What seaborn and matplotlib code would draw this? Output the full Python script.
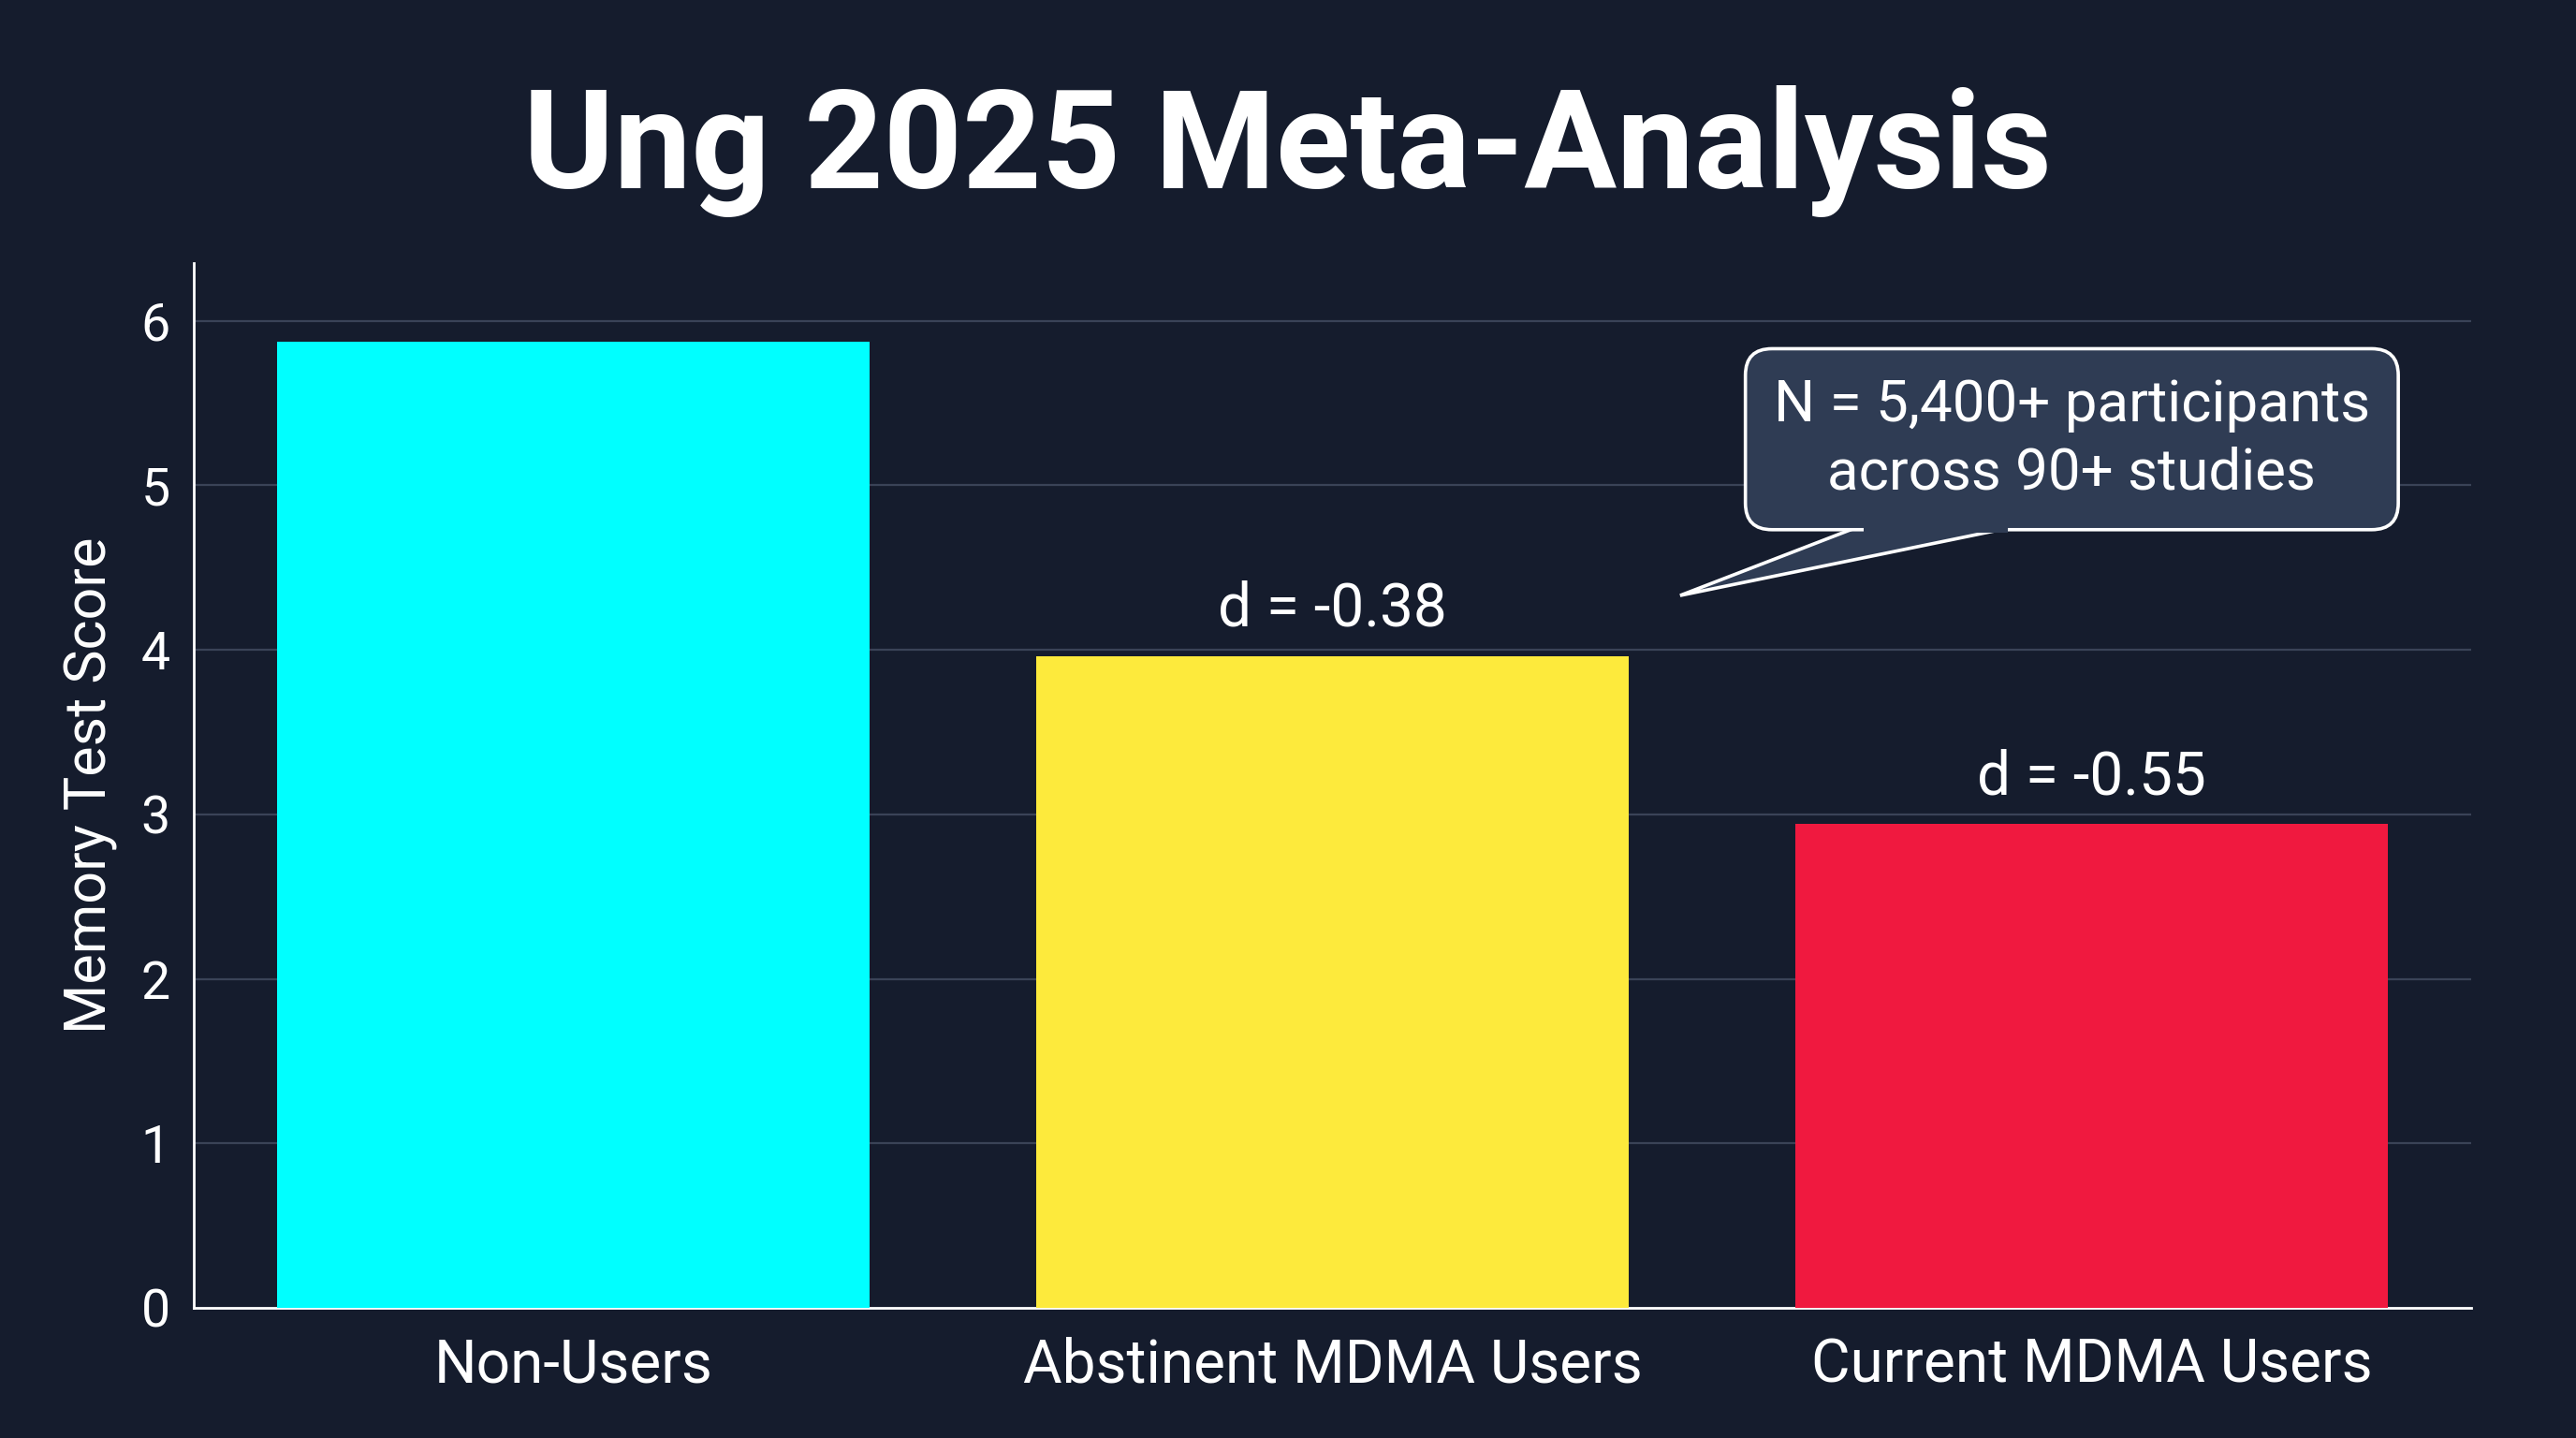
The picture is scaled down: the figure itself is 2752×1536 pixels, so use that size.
import numpy as np
import pandas as pd
import matplotlib
matplotlib.use("Agg")
import matplotlib.pyplot as plt
import seaborn as sns
from matplotlib.patches import FancyBboxPatch, Polygon

# data
groups = ["Non-Users", "Abstinent MDMA Users", "Current MDMA Users"]
scores = [5.87, 3.96, 2.94]
effect_labels = ["", "d = -0.38", "d = -0.55"]
bar_colors = ["#00FFFF", "#FDEA3C", "#F0193F"]
y_ticks = [0, 1, 2, 3, 4, 5, 6]
callout_text = "N = 5,400+ participants\nacross 90+ studies"

BG = "#151C2D"
sns.set_theme(style="dark")
plt.rcParams["font.family"] = ["Roboto", "DejaVu Sans"]

df = pd.DataFrame({"Group": groups, "Score": scores})

fig = plt.figure(figsize=(13.76, 7.68), dpi=200, facecolor=BG)
ax = fig.add_axes([0.0752, 0.0905, 0.8841, 0.7265])
ax.set_facecolor(BG)

sns.barplot(data=df, x="Group", y="Score", hue="Group", palette=bar_colors,
            width=0.78, saturation=1, legend=False, linewidth=0, ax=ax, zorder=3)

ax.set_xlim(-0.5, 2.5)
ax.set_ylim(0, 6.35)
ax.set_yticks(y_ticks)
ax.yaxis.grid(True, color="#3A4357", linewidth=0.8, zorder=0)
ax.xaxis.grid(False)
for s in ["top", "right"]:
    ax.spines[s].set_visible(False)
for s in ["left", "bottom"]:
    ax.spines[s].set_color("white")
    ax.spines[s].set_linewidth(1.0)
ax.tick_params(axis="y", length=0, pad=9, labelsize=20, labelcolor="white")
ax.tick_params(axis="x", length=0, pad=11, labelsize=23, labelcolor="white")
ax.set_xlabel("")
ax.set_ylabel("Memory Test Score", color="white", fontsize=22, labelpad=9)

# effect size labels over bars
for i, lab in enumerate(effect_labels):
    if lab:
        ax.text(i, scores[i] + 0.11, lab, ha="center", va="bottom",
                color="white", fontsize=23, zorder=5)

# callout bubble
box_fc = "#2F3C54"
bx0, bx1, by0, by1 = 1.544, 2.404, 4.73, 5.83
tail = [(1.694, by0 + 0.02), (1.458, 4.33), (1.901, by0 + 0.02)]
ax.add_patch(Polygon(tail, closed=True, facecolor=box_fc, edgecolor="white",
                     linewidth=1.3, zorder=6))
ax.add_patch(FancyBboxPatch((bx0, by0), bx1 - bx0, by1 - by0,
                            boxstyle="round,pad=0,rounding_size=0.035",
                            mutation_aspect=4.6, facecolor=box_fc,
                            edgecolor="white", linewidth=1.3, zorder=7))
cover = [(1.700, by0 + 0.06), (1.700, by0 - 0.02), (1.89, by0 - 0.02), (1.89, by0 + 0.06)]
ax.add_patch(Polygon(cover, closed=True, facecolor=box_fc, edgecolor="none", zorder=8))
ax.text((bx0 + bx1) / 2, (by0 + by1) / 2, callout_text, ha="center", va="center",
        color="white", fontsize=22.3, linespacing=1.32, zorder=9)

fig.text(0.5, 0.895, "Ung 2025 Meta-Analysis", ha="center", va="center",
         color="white", fontsize=53, fontweight="bold")

fig.savefig("out.png", dpi=200, facecolor=BG)
